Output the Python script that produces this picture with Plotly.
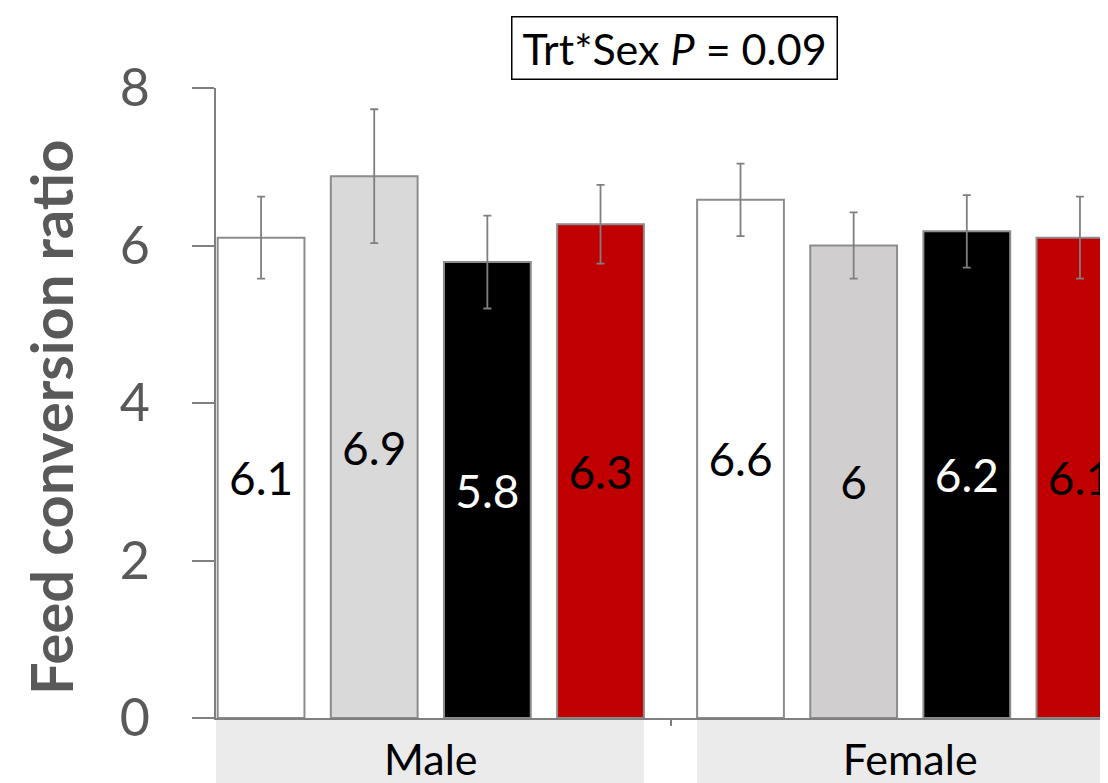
import plotly.graph_objects as go

# ---- data ----
sexes = ["Male", "Female"]
treatments = ["T1", "T2", "T3", "T4"]
fcr_t1 = [6.10, 6.58]
fcr_t2 = [6.88, 6.00]
fcr_t3 = [5.79, 6.18]
fcr_t4 = [6.27, 6.10]
se_t1 = [0.52, 0.46]
se_t2 = [0.85, 0.42]
se_t3 = [0.59, 0.46]
se_t4 = [0.50, 0.52]
lbl_t1 = ["6.1", "6.6"]
lbl_t2 = ["6.9", "6"]
lbl_t3 = ["5.8", "6.2"]
lbl_t4 = ["6.3", "6.1"]
y_ticks = [0, 2, 4, 6, 8]

values = [fcr_t1, fcr_t2, fcr_t3, fcr_t4]
errors = [se_t1, se_t2, se_t3, se_t4]
labels = [lbl_t1, lbl_t2, lbl_t3, lbl_t4]
fills = [["#ffffff", "#ffffff"], ["#d9d9d9", "#d0cece"], ["#000000", "#000000"], ["#c00000", "#c00000"]]
txtcol = ["#000000", "#000000", "#ffffff", "#000000"]

FONT = "Lato"
GRAY = "#7f7f7f"
BARGAP = 0.056
GROUPGAP = 0.233

# page body has an 8px margin; the figure is sized so the plot lands where the reference has it
W, H = 1100, 775
ML, MT, MB = 208, 80, 65
PW, PH = W - ML, H - MT - MB
OFF = 8  # page offset


def px_x(p):
    return (p - OFF - ML) / PW


def px_y(p):
    return (H - MB + OFF - p) / PH


fig = go.Figure()
for i in range(4):
    fig.add_trace(go.Bar(
        x=sexes, y=values[i], name=treatments[i],
        marker=dict(color=fills[i], line=dict(color="#8c8c8c", width=2)),
        error_y=dict(type="data", array=errors[i], color=GRAY, thickness=1.8, width=4),
        text=labels[i], textposition="inside", insidetextanchor="middle",
        textangle=0, constraintext="none",
        textfont=dict(family=FONT, size=46, color=txtcol[i]),
        showlegend=False,
    ))

# shaded category boxes below the axis
slot = (1 - BARGAP) / 4
half_bar = slot * (1 - GROUPGAP) / 2
x_left = -0.448
male_right = 0 + 1.5 * slot + half_bar
female_left = 1 - 1.5 * slot - half_bar
box_h = MB / PH
for x0, x1 in [(x_left, male_right), (female_left, 1.6)]:
    fig.add_shape(type="rect", xref="x", yref="paper", x0=x0, x1=x1, y0=-box_h, y1=0,
                  fillcolor="#ebebeb", line=dict(width=0), layer="below")

fig.update_layout(
    width=W, height=H,
    margin=dict(l=ML, r=0, t=MT, b=MB),
    paper_bgcolor="white", plot_bgcolor="white",
    barmode="group", bargap=BARGAP, bargroupgap=GROUPGAP,
    font=dict(family=FONT),
    xaxis=dict(range=[x_left, 1.4125], showline=True, linecolor=GRAY, linewidth=1.5,
               ticks="outside", tickson="boundaries", ticklen=6, tickcolor=GRAY, tickwidth=1.5,
               tickfont=dict(family=FONT, size=43, color="#000000"), ticklabelstandoff=4,
               showgrid=False, zeroline=False, automargin=False),
    yaxis=dict(range=[0, 8], tickvals=y_ticks, showline=True, linecolor=GRAY, linewidth=1.5,
               ticks="outside", ticklen=22, tickcolor=GRAY, tickwidth=1.5,
               tickfont=dict(family=FONT, size=52, color="#595959"), ticklabelstandoff=32,
               showgrid=False, zeroline=False, automargin=False),
    annotations=[
        dict(text="Trt*Sex <i>P</i> = 0.09", xref="paper", yref="paper",
             x=px_x(674), y=px_y(48), xanchor="center", yanchor="middle",
             showarrow=False, font=dict(family=FONT, size=43, color="#000000"),
             bordercolor="#000000", borderwidth=1.5, borderpad=0, width=324, height=61,
             bgcolor="white"),
        dict(text="<b>Feed conversion ratio</b>", xref="paper", yref="paper",
             x=px_x(50), y=px_y(418), xanchor="center", yanchor="middle",
             textangle=-90, showarrow=False, font=dict(family=FONT, size=58, color="#595959")),
    ],
)

fig.write_html("out.html")
